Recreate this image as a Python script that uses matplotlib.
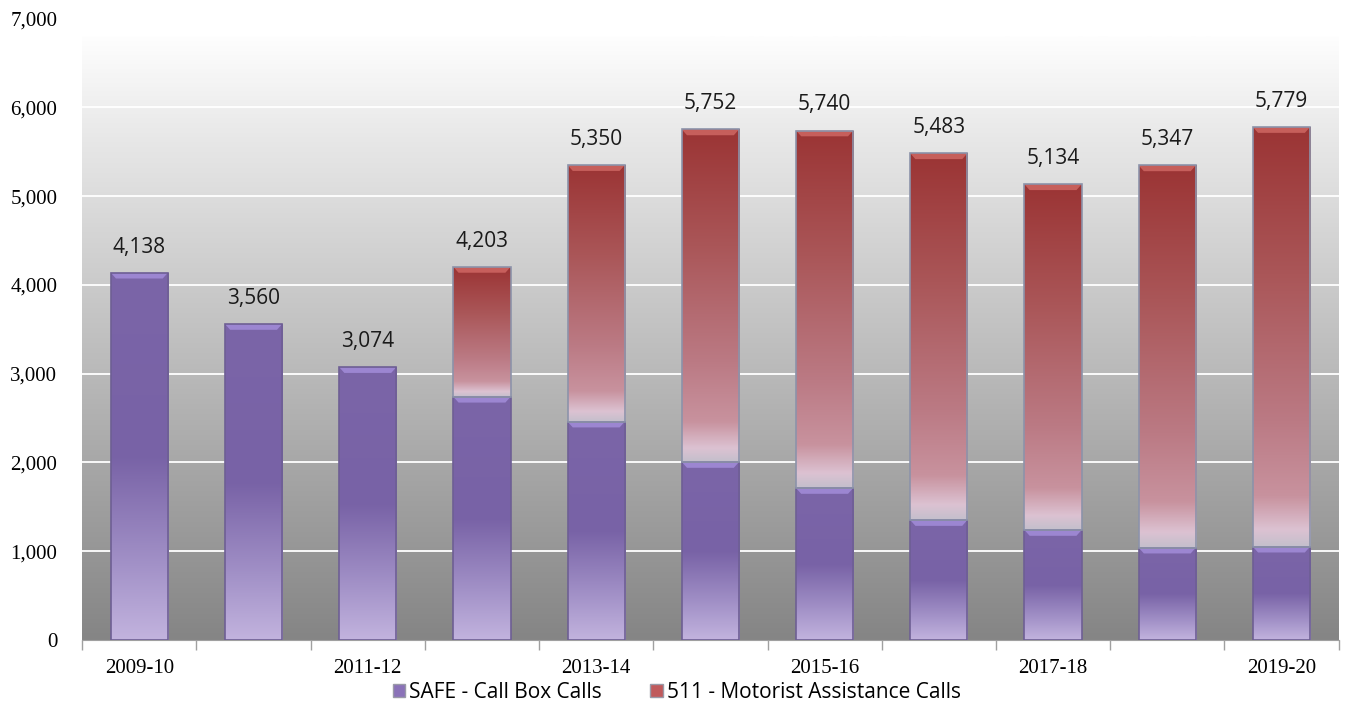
import numpy as np
import matplotlib.pyplot as plt
from matplotlib.colors import LinearSegmentedColormap
from matplotlib.patches import Polygon

years = ['2009-10', '2010-11', '2011-12', '2012-13', '2013-14', '2014-15',
         '2015-16', '2016-17', '2017-18', '2018-19', '2019-20']
safe = [4138, 3560, 3074, 2740, 2460, 2005, 1712, 1351, 1239, 1040, 1051]
totals = [4138, 3560, 3074, 4203, 5350, 5752, 5740, 5483, 5134, 5347, 5779]
motorist = [t - s for t, s in zip(totals, safe)]

purple_cm = LinearSegmentedColormap.from_list('p', [
    (0.0, '#7b65a8'), (0.5, '#7862a6'), (0.8, '#a392c8'), (1.0, '#c2b3de')])
red_cm = LinearSegmentedColormap.from_list('r', [
    (0.0, '#9b3434'), (0.35, '#aa5658'), (0.7, '#bb7a84'), (0.88, '#c8929e'),
    (0.96, '#dcc2d2'), (1.0, '#c4bfcc')])
bg_cm = LinearSegmentedColormap.from_list('bg', [
    (0.0, '#fefefe'), (0.15, '#eaeaea'), (0.5, '#c0c0c0'), (1.0, '#858585')])

fig = plt.figure(figsize=(13.48, 7.06), dpi=100)
ax = fig.add_axes([0.061, 0.0935, 0.932, 0.88])

x = np.arange(len(years))
w = 0.5
ax.set_xlim(-0.5, len(years) - 0.5)
ax.set_ylim(0, 7000)

# background gradient (plot area)
grad = np.linspace(0, 1, 256).reshape(-1, 1)
ax.imshow(grad, cmap=bg_cm, aspect='auto', extent=(-0.5, len(years) - 0.5, 0, 6800),
          origin='upper', zorder=0)

for yv in range(1000, 7000, 1000):
    ax.axhline(yv, color='white', lw=1.3, zorder=1)

bars_s = ax.bar(x, safe, w, facecolor='none', edgecolor='#6e5f94', lw=1.2, zorder=3)
bars_m = ax.bar(x, motorist, w, bottom=safe, facecolor='none', edgecolor='#8c93aa',
                lw=1.2, zorder=3)


def fill_bar(p, cmap, hl):
    x0, y0 = p.get_x(), p.get_y()
    bw, bh = p.get_width(), p.get_height()
    if bh <= 0:
        p.set_visible(False)
        return
    im = ax.imshow(grad, cmap=cmap, aspect='auto', extent=(x0, x0 + bw, y0, y0 + bh),
                   origin='upper', zorder=2)
    im.set_clip_path(p)
    # bevel highlight at the top
    dy = 65
    dx = 0.045
    ax.add_patch(Polygon([[x0, y0 + bh], [x0 + bw, y0 + bh], [x0 + bw - dx, y0 + bh - dy],
                          [x0 + dx, y0 + bh - dy]], closed=True, facecolor=hl,
                         edgecolor='none', alpha=0.8, zorder=2.5))


for p in bars_s:
    fill_bar(p, purple_cm, '#a58fdc')
for p in bars_m:
    fill_bar(p, red_cm, '#d26a66')

for xi, t in zip(x, totals):
    ax.text(xi, t + 170, f'{t:,}', ha='center', va='bottom', fontsize=15,
            family='Open Sans', color='#1a1a1a', zorder=4)

ax.set_xticks(np.arange(-0.5, len(years), 1))
ax.set_xticklabels([])
ax.set_xticks(x, minor=True)
ax.set_xticklabels([y if i % 2 == 0 else '' for i, y in enumerate(years)], minor=True,
                   family='Liberation Serif', fontsize=15)
ax.tick_params(axis='x', which='major', length=7, color='#a0a0a0', width=1)
ax.tick_params(axis='x', which='minor', length=0, pad=14)
ax.set_yticks(range(0, 7001, 1000))
ax.set_yticklabels([f'{v:,}' for v in range(0, 7001, 1000)], family='Liberation Serif',
                   fontsize=15)
ax.tick_params(axis='y', length=0, pad=18)
for s in ['top', 'right', 'left']:
    ax.spines[s].set_visible(False)
ax.spines['bottom'].set_color('#a0a0a0')

# legend
h1 = plt.Rectangle((0, 0), 1, 1, facecolor='#8a72b8', edgecolor='#9a9aa8')
h2 = plt.Rectangle((0, 0), 1, 1, facecolor='#c05a5c', edgecolor='#9a9aa8')
fig.legend([h1, h2], ['SAFE - Call Box Calls', '511 - Motorist Assistance Calls'],
           loc='center', bbox_to_anchor=(0.502, 0.019), ncol=2, frameon=False,
           prop={'family': 'Open Sans', 'size': 15}, handlelength=0.6,
           handleheight=0.6, handletextpad=0.2, columnspacing=2.3,
           borderaxespad=0, borderpad=0)

fig.savefig('out.png', dpi=100)
